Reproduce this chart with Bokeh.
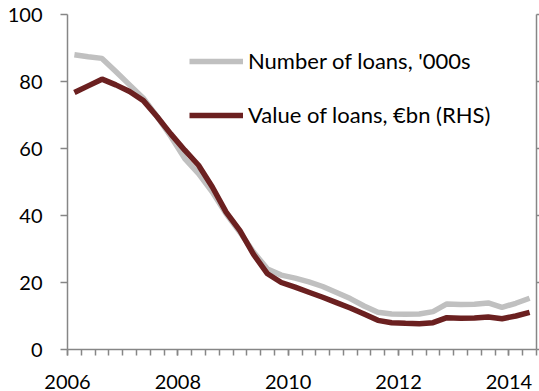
import numpy as np
from bokeh.plotting import figure
from bokeh.models import (Range1d, LinearAxis, FixedTicker, Legend, LegendItem,
                          ColumnDataSource)
from bokeh.embed import file_html
from bokeh.resources import INLINE

# Quarterly data, 2006 Q1 .. 2014 Q2
quarter_index = list(range(34))
number_of_loans = [88.0, 87.4, 86.9, 83.0, 79.0, 75.0, 69.5, 63.5,
                   57.0, 52.5, 47.0, 40.5, 35.0, 29.0, 24.0, 22.2,
                   21.3, 20.2, 18.8, 17.0, 15.2, 13.0, 11.1, 10.6,
                   10.5, 10.6, 11.3, 13.6, 13.4, 13.5, 13.9, 12.6,
                   13.8, 15.3]
value_of_loans = [7.67, 7.87, 8.07, 7.90, 7.70, 7.43, 6.95, 6.43,
                  5.95, 5.50, 4.85, 4.10, 3.55, 2.83, 2.26, 2.00,
                  1.86, 1.71, 1.56, 1.40, 1.24, 1.06, 0.87, 0.80,
                  0.78, 0.77, 0.80, 0.95, 0.93, 0.94, 0.97, 0.92,
                  1.00, 1.11]
year_ticks = [2006, 2008, 2010, 2012, 2014]
left_ticks = [0, 20, 40, 60, 80, 100]
right_ticks = [0, 2, 4, 6, 8, 10]

x = [2006 + (q + 0.5) / 4 for q in quarter_index]
quarter_edges = [2006 + q / 4 for q in range(35)]

FONT = "Lato"
AXIS_COLOR = "#868686"
GRAY = "#c0c0c0"
RED = "#6b2020"

p = figure(width=539, height=391, output_backend="svg", toolbar_location=None,
           x_range=Range1d(2006, 2014.5), y_range=Range1d(0, 100),
           min_border_left=67, min_border_right=0, min_border_top=14,
           min_border_bottom=42)
p.extra_y_ranges = {"rhs": Range1d(0, 10)}
p.outline_line_color = None
p.grid.visible = False
p.background_fill_color = "white"
p.border_fill_color = "white"

src = ColumnDataSource(dict(x=x, n=number_of_loans, v=value_of_loans))
r1 = p.line("x", "n", source=src, line_color=GRAY, line_width=5.5)
r2 = p.line("x", "v", source=src, line_color=RED, line_width=5.5,
            y_range_name="rhs")

# x axis
xa = p.xaxis[0]
xa.ticker = FixedTicker(ticks=year_ticks, minor_ticks=quarter_edges)
xa.major_tick_out = 6
xa.major_tick_in = 0
xa.minor_tick_out = 6
xa.minor_tick_in = 0
xa.axis_line_color = AXIS_COLOR
xa.axis_line_width = 1.5
xa.major_tick_line_color = AXIS_COLOR
xa.minor_tick_line_color = AXIS_COLOR
xa.major_tick_line_width = 1.5
xa.minor_tick_line_width = 1.5
xa.major_label_text_font = FONT
xa.major_label_text_font_size = "20px"
xa.major_label_text_color = "black"
xa.major_label_standoff = 19

# left axis
ya = p.yaxis[0]
ya.ticker = FixedTicker(ticks=left_ticks)
ya.minor_tick_line_color = None
ya.major_tick_out = 7
ya.major_tick_in = 0
ya.axis_line_color = AXIS_COLOR
ya.axis_line_width = 1.5
ya.major_tick_line_color = AXIS_COLOR
ya.major_tick_line_width = 1.5
ya.major_label_text_font = FONT
ya.major_label_text_font_size = "20px"
ya.major_label_text_color = "black"
ya.major_label_standoff = 18

# right axis (its labels fall outside the picture in the original)
ra = LinearAxis(y_range_name="rhs", ticker=FixedTicker(ticks=right_ticks))
ra.minor_tick_line_color = None
ra.major_tick_out = 3
ra.major_tick_in = 0
ra.axis_line_color = AXIS_COLOR
ra.axis_line_width = 1.5
ra.major_tick_line_color = AXIS_COLOR
ra.major_tick_line_width = 1.5
ra.major_label_overrides = {t: "" for t in right_ticks}
ra.major_label_text_font_size = "1px"
ra.major_label_standoff = 0
p.add_layout(ra, "right")

legend = Legend(items=[
    LegendItem(label="Number of loans, '000s", renderers=[r1]),
    LegendItem(label="Value of loans, €bn (RHS)", renderers=[r2]),
], location=(122, 221))
legend.border_line_color = None
legend.background_fill_alpha = 0
legend.label_text_font = FONT
legend.label_text_font_size = "22px"
legend.label_text_color = "black"
legend.glyph_width = 54
legend.glyph_height = 20
legend.label_height = 20
legend.label_standoff = 5
legend.spacing = 27
legend.padding = 0
legend.margin = 0
p.add_layout(legend, "center")

open("out.html", "w").write(file_html(p, INLINE))
